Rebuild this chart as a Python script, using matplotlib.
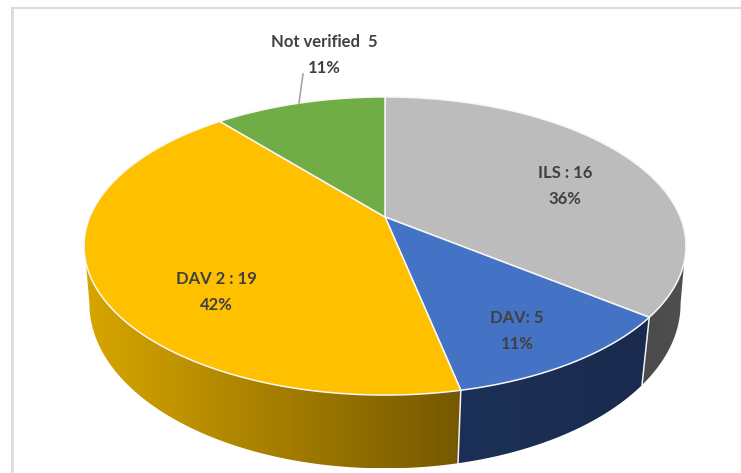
import numpy as np
import matplotlib
matplotlib.use("Agg")
import matplotlib.pyplot as plt
from matplotlib.patches import Polygon

categories = ["ILS", "DAV", "DAV 2", "Not verified"]
values = [16, 5, 19, 5]
top_colors = ["#bcbcbc", "#4472c4", "#ffc000", "#70ad47"]
side_colors = [("#4a4a4a", "#4f4f4f"), ("#1c3057", "#1a2a4e"), ("#d8a600", "#755800"), ("#70ad47", "#70ad47")]
label_texts = ["ILS : 16\n36%", "DAV: 5\n11%", "DAV 2 : 19\n42%", "Not verified  5\n11%"]
label_pos = [(565, 186), (517, 331), (216, 292), (324, 55)]

W, H = 741, 473
plt.rcParams["font.family"] = ["Lato", "DejaVu Sans"]
fig = plt.figure(figsize=(W / 100, H / 100), dpi=100, facecolor="white")
ax = fig.add_axes([0, 0, 1, 1])
ax.set_xlim(0, W)
ax.set_ylim(H, 0)
ax.axis("off")


def project(t, cx, cy, a, b, k):
    """t = clockwise angle from 12 o'clock; perspective view of a circle."""
    den = 1 + k * np.cos(t)
    return cx + b * np.sin(t) / den, cy - a * np.cos(t) / den


def top(t):
    return project(t, 385, 217, 143.4, 295.2, 0.1946)


def bottom(t):
    return project(t, 385, 275, 159.5, 291, 0.175)


fractions = np.array(values) / sum(values)
edges = np.concatenate([[0], np.cumsum(fractions)]) * 2 * np.pi
front_start, front_end = np.radians(100), np.radians(260)

# side wall: a left-to-right gradient clipped to each visible segment
for i in range(len(values)):
    t0, t1 = max(edges[i], front_start), min(edges[i + 1], front_end)
    if t1 <= t0:
        continue
    ts = np.linspace(t0, t1, 200)
    xt, yt = top(ts)
    xb, yb = bottom(ts)
    pts = np.column_stack([np.r_[xt, xb[::-1]], np.r_[yt, yb[::-1]]])
    clip = Polygon(pts, closed=True, transform=ax.transData, fc="none", ec="none")
    ax.add_patch(clip)
    cmap = matplotlib.colors.LinearSegmentedColormap.from_list("w", side_colors[i])
    grad = np.linspace(0, 1, 256).reshape(1, -1)
    im = ax.imshow(grad, cmap=cmap, extent=(pts[:, 0].min(), pts[:, 0].max(), pts[:, 1].max(), pts[:, 1].min()),
                   aspect="auto", zorder=1, interpolation="bilinear")
    im.set_clip_path(clip)
ax.set_xlim(0, W)
ax.set_ylim(H, 0)

# pale seams between the visible wall segments
for t in edges[1:3]:
    xa, ya = top(t)
    xb, yb = bottom(t)
    ax.plot([xa, xb], [ya, yb], color="#f2f2f2", lw=1.1, zorder=2)

# top face
for i in range(len(values)):
    ts = np.linspace(edges[i], edges[i + 1], 200)
    xs, ys = top(ts)
    pts = np.column_stack([np.r_[385, xs], np.r_[217, ys]])
    ax.add_patch(Polygon(pts, closed=True, fc=top_colors[i], ec="#f7f7f7", lw=1.1, zorder=3, joinstyle="round"))

# labels
for txt, (x, y) in zip(label_texts, label_pos):
    ax.text(x, y, txt, ha="center", va="center", fontsize=12, fontweight="bold",
            color="#404040", linespacing=1.7, zorder=5)

# leader line and chart frame
ax.plot([303, 299], [74, 103], color="#a6a6a6", lw=1.2, zorder=4)
ax.plot([12, 12], [8, 473], color="#dcdcdc", lw=2, zorder=0)
ax.plot([12, 741], [8, 8], color="#dcdcdc", lw=1.5, zorder=0)

fig.savefig("out.png", dpi=100)
